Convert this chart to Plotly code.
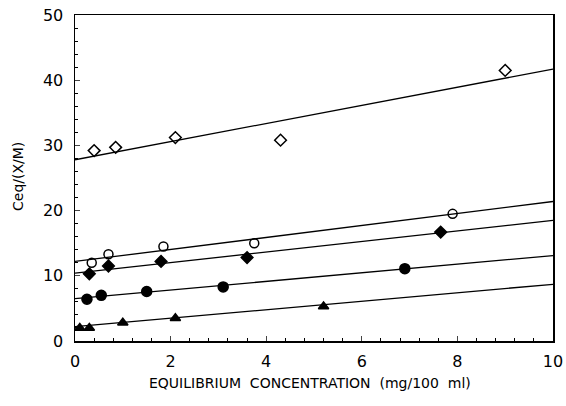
import plotly.graph_objects as go

# Data
x_open_diamond = [0.4, 0.85, 2.1, 4.3, 9.0]
y_open_diamond = [29.2, 29.7, 31.2, 30.8, 41.5]

x_open_circle = [0.35, 0.7, 1.85, 3.75, 7.9]
y_open_circle = [12.0, 13.3, 14.5, 15.0, 19.5]

x_filled_diamond = [0.3, 0.7, 1.8, 3.6, 7.65]
y_filled_diamond = [10.3, 11.5, 12.2, 12.8, 16.7]

x_filled_circle = [0.25, 0.55, 1.5, 3.1, 6.9]
y_filled_circle = [6.4, 7.0, 7.6, 8.3, 11.1]

x_triangle = [0.1, 0.3, 1.0, 2.1, 5.2]
y_triangle = [2.0, 2.0, 2.8, 3.5, 5.3]

# Fitted lines: value at x=0 and at x=10
line_x = [0, 10]
line_open_diamond = [27.8, 41.7]
line_open_circle = [12.2, 21.4]
line_filled_diamond = [10.4, 18.5]
line_filled_circle = [6.5, 13.1]
line_triangle = [2.2, 8.7]

x_ticks = [0, 2, 4, 6, 8, 10]
y_ticks = [0, 10, 20, 30, 40, 50]

x_title = "EQUILIBRIUM  CONCENTRATION  (mg/100  ml)"
y_title = "Ceq/(X/M)"

FONT = "DejaVu Sans, Verdana, sans-serif"

fig = go.Figure()

for ly in [line_open_diamond, line_open_circle, line_filled_diamond,
           line_filled_circle, line_triangle]:
    fig.add_trace(go.Scatter(x=line_x, y=ly, mode="lines",
                             line=dict(color="black", width=1.3),
                             showlegend=False, hoverinfo="skip"))

series = [
    (x_open_diamond, y_open_diamond, "diamond-open", 9),
    (x_open_circle, y_open_circle, "circle-open", 9),
    (x_filled_diamond, y_filled_diamond, "diamond", 9),
    (x_filled_circle, y_filled_circle, "circle", 10),
    (x_triangle, y_triangle, "triangle-up", 9),
]
for xs, ys, sym, sz in series:
    fig.add_trace(go.Scatter(x=xs, y=ys, mode="markers",
                             marker=dict(symbol=sym, size=sz, color="black",
                                         line=dict(color="black", width=1.5)),
                             showlegend=False))

axis_font = dict(family=FONT, size=16, color="black")

fig.update_layout(
    width=566, height=406,
    margin=dict(l=75, r=13, t=15, b=65),
    paper_bgcolor="white", plot_bgcolor="white",
    xaxis=dict(range=[0, 10], tickvals=x_ticks, ticks="inside", ticklen=5,
               showline=True, linecolor="black", linewidth=1.5, mirror=True,
               showgrid=False, zeroline=False, tickfont=axis_font,
               automargin=False, ticklabelstandoff=5,
               minor=dict(dtick=0.4, ticks="inside", ticklen=3, tickcolor="black")),
    yaxis=dict(range=[0, 50], tickvals=y_ticks, ticks="inside", ticklen=5,
               showline=True, linecolor="black", linewidth=1.5, mirror=True,
               showgrid=False, zeroline=False, tickfont=axis_font,
               automargin=False, ticklabelstandoff=7,
               minor=dict(dtick=2, ticks="inside", ticklen=3, tickcolor="black")),
    annotations=[
        dict(text=x_title, xref="paper", yref="paper", x=0.5, y=0,
             xanchor="center", yanchor="middle", xshift=-4, yshift=-42,
             showarrow=False, font=dict(family=FONT, size=14, color="black")),
        dict(text=y_title, xref="paper", yref="paper", x=0, y=0.5,
             xanchor="center", yanchor="middle", xshift=-57, yshift=1,
             textangle=-90, showarrow=False,
             font=dict(family=FONT, size=14, color="black")),
    ],
)

fig.write_html("out.html",
               config={"displayModeBar": False, "staticPlot": True},
               post_script="document.body.style.margin='0';document.body.style.padding='0';")
